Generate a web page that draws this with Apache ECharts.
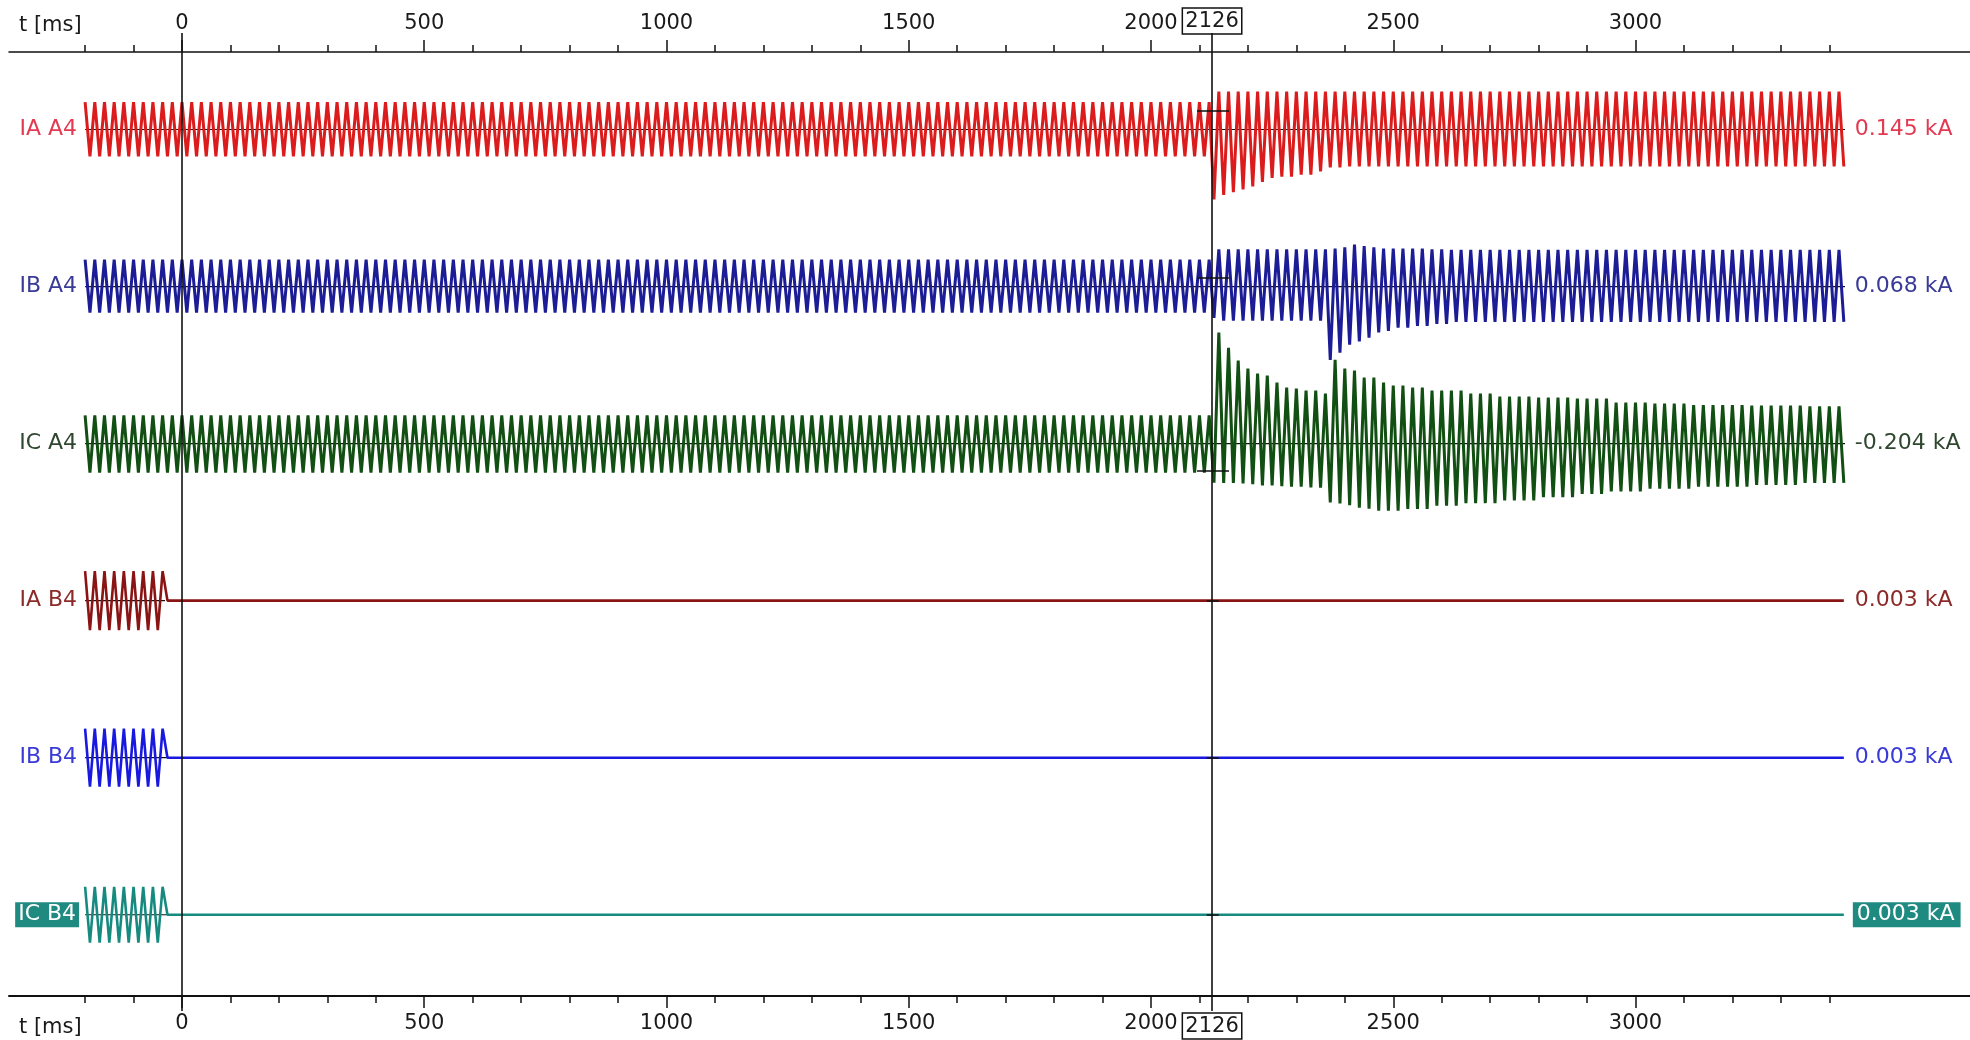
<!DOCTYPE html>
<html>
<head>
<meta charset="utf-8">
<title>IA / IB / IC A4 B4</title>
<script src="https://cdn.jsdelivr.net/npm/echarts@6/dist/echarts.min.js"></script>
<style>
  html, body { margin: 0; padding: 0; background: #fff; }
  #chart { width: 1970px; height: 1040px; }
</style>
</head>
<body>
<div id="chart"></div>
<script>
// channels, and the value read at the cursor (kA)
var channels = ['IA A4', 'IB A4', 'IC A4', 'IA B4', 'IB B4', 'IC B4'];
var cursorValues = [0.145, 0.068, -0.204, 0.003, 0.003, 0.003];
var cursorTime = 2126;
var markTimes = [0, 2126];

// time axis ticks / labels (ms)
var majorTicks = [0, 500, 1000, 1500, 2000, 2500, 3000];
var minorTicks = [-200, -100, 100, 200, 300, 400, 600, 700, 800, 900, 1100, 1200, 1300, 1400,
  1600, 1700, 1800, 1900, 2100, 2200, 2300, 2400, 2600, 2700, 2800, 2900, 3100, 3200, 3300, 3400];
var timeLabels = [0, 500, 1000, 1500, 2000, 2126, 2500, 3000];

// peak envelope: [t ms, positive peak kA, negative peak kA]
// each row holds until the next one
var iaA4 = [[-200, 0.21, -0.205], [2126, 0.29, -0.535], [2150, 0.29, -0.50], [2170, 0.29, -0.48],
  [2190, 0.29, -0.458], [2210, 0.29, -0.435], [2230, 0.29, -0.40], [2250, 0.29, -0.37],
  [2270, 0.29, -0.36], [2300, 0.29, -0.345], [2335, 0.29, -0.32], [2370, 0.29, -0.29],
  [2400, 0.29, -0.283]];
var ibA4 = [[-200, 0.205, -0.2], [2126, 0.27, -0.24], [2140, 0.285, -0.26], [2370, 0.29, -0.56],
  [2390, 0.30, -0.505], [2410, 0.32, -0.445], [2430, 0.31, -0.42], [2450, 0.30, -0.39],
  [2470, 0.29, -0.35], [2490, 0.29, -0.34], [2510, 0.29, -0.315], [2540, 0.29, -0.30],
  [2580, 0.285, -0.285], [2620, 0.28, -0.27]];
var icA4 = [[-200, 0.215, -0.222], [2126, 0.848, -0.298], [2145, 0.733, -0.30], [2165, 0.688, -0.30],
  [2180, 0.634, -0.305], [2195, 0.573, -0.31], [2215, 0.535, -0.315], [2230, 0.52, -0.32],
  [2245, 0.466, -0.32], [2265, 0.428, -0.325], [2285, 0.42, -0.33], [2320, 0.405, -0.335],
  [2345, 0.382, -0.336], [2370, 0.64, -0.45], [2385, 0.596, -0.458], [2400, 0.573, -0.47],
  [2420, 0.558, -0.49], [2440, 0.504, -0.497], [2465, 0.466, -0.512], [2500, 0.443, -0.512],
  [2530, 0.428, -0.50], [2580, 0.405, -0.474], [2650, 0.382, -0.455], [2720, 0.36, -0.435],
  [2800, 0.351, -0.41], [2880, 0.344, -0.385], [2950, 0.313, -0.365], [3030, 0.306, -0.345],
  [3120, 0.295, -0.33], [3240, 0.29, -0.315], [3350, 0.285, -0.30]];
var iaB4 = [[-200, 0.225, -0.225], [-35, 0, 0]];
var ibB4 = [[-200, 0.222, -0.222], [-30, 0, 0]];
var icB4 = [[-200, 0.214, -0.214], [-30, 0, 0]];
var envelopes = [iaA4, ibA4, icA4, iaB4, ibB4, icB4];
var recordStart = -200, recordEnd = 3430;
var baseSpans = [[-200, 3440], [-200, 3440], [-200, 3440], [-200, -35], [-200, -30], [-200, -30]];

var lineColors = ['#dc1c1c', '#1c1c96', '#124f12', '#8a1414', '#1818e0', '#178a80'];
var labelColors = ['#e23a52', '#3a3a98', '#2f472f', '#8c2a2a', '#3a3ad6', '#ffffff'];

// 50 Hz: one peak every half cycle, sign alternating
var HALF_CYCLE = 10;
function wave(knots) {
  var pts = [], j = 0, s = 1;
  for (var t = recordStart; t <= recordEnd; t += HALF_CYCLE) {
    while (j + 1 < knots.length && knots[j + 1][0] <= t) j++;
    pts.push([t, s > 0 ? knots[j][1] : knots[j][2]]);
    s = -s;
  }
  return pts;
}

var X0 = 182, K = 0.4845;            // pixel of t = 0, pixels per ms
var AX_MIN = (9 - X0) / K, AX_MAX = (1970 - X0) / K;
var FONT = 'DejaVu Sans';

var grids = [
  { left: 9, right: 0, top: 52, height: 944 },   // major ticks
  { left: 9, right: 0, top: 52, height: 944 },   // minor ticks
  { left: 9, right: 0, top: 33, height: 978 }    // 0 and cursor lines
];
var xAxes = [], yAxes = [], series = [];

function timeAxis(grid, pos, major) {
  return {
    type: 'value', gridIndex: grid, position: pos, min: AX_MIN, max: AX_MAX,
    axisLine: { show: major, onZero: false, lineStyle: { color: '#111', width: pos === 'bottom' ? 2 : 1.5 } },
    axisTick: { show: true, customValues: major ? majorTicks : minorTicks, length: major ? 12 : 7,
      lineStyle: { color: '#111', width: 1.5 } },
    axisLabel: { show: major, customValues: timeLabels, margin: pos === 'top' ? 18 : 17,
      fontFamily: FONT, fontSize: 21, color: '#1a1a1a',
      formatter: function (v) { return v === cursorTime ? '{box|' + v + '}' : String(v); },
      rich: { box: { fontFamily: FONT, fontSize: 21, color: '#1a1a1a', borderColor: '#111',
        borderWidth: 1.5, padding: [3, 3, 2, 3] } } },
    splitLine: { show: false }
  };
}
xAxes.push(timeAxis(0, 'top', true), timeAxis(0, 'bottom', true),
  timeAxis(1, 'top', false), timeAxis(1, 'bottom', false));
yAxes.push({ type: 'value', gridIndex: 0, min: 0, max: 1, show: false },
  { type: 'value', gridIndex: 1, min: 0, max: 1, show: false });

xAxes.push({ type: 'value', gridIndex: 2, min: AX_MIN, max: AX_MAX, show: false });
yAxes.push({ type: 'value', gridIndex: 2, min: 0, max: 1, show: false });
series.push({
  type: 'line', xAxisIndex: 4, yAxisIndex: 2, data: [], z: 10,
  markLine: {
    silent: true, symbol: ['none', 'none'], label: { show: false },
    lineStyle: { color: '#111', width: 1.6, type: 'solid' },
    data: markTimes.map(function (t) { return { xAxis: t }; })
  }
});

channels.forEach(function (name, i) {
  var base = 129.5 + 157.05 * i;
  var left = X0 + recordStart * K;
  grids.push({ left: left, right: 1970 - (X0 + recordEnd * K), top: base - 78.5, height: 157 });
  var g = 3 + i;
  var boxed = i === 5;
  xAxes.push({ type: 'value', gridIndex: g, min: recordStart, max: recordEnd, show: false });
  function labelAxis(pos, text, margin, pad) {
    return {
      type: 'value', gridIndex: g, position: pos, min: -0.6, max: 0.6,
      axisLine: { show: false, onZero: false }, axisTick: { show: false }, splitLine: { show: false },
      axisLabel: {
        customValues: [0],
        margin: margin, fontFamily: FONT, fontSize: 22, color: labelColors[i],
        backgroundColor: boxed ? '#1f8a80' : 'transparent', padding: boxed ? pad : 0,
        formatter: function () { return text; }
      }
    };
  }
  yAxes.push(labelAxis('left', name, boxed ? 6 : 8, [2, 3, 1, 3]),
    labelAxis('right', cursorValues[i].toFixed(3) + ' kA', boxed ? 9 : 11, [2, 6, 1, 4]));
  var xi = 5 + i, yi = 3 + 2 * i;
  series.push({
    type: 'line', name: name + ' zero', xAxisIndex: xi, yAxisIndex: yi, z: 1,
    data: baseSpans[i].map(function (t) { return [t, 0]; }),
    showSymbol: false, lineStyle: { color: '#111', width: 1.2 }, silent: true
  });
  series.push({
    type: 'line', name: name, xAxisIndex: xi, yAxisIndex: yi, z: 3,
    data: wave(envelopes[i]), showSymbol: false, clip: false, sampling: null,
    lineStyle: { color: lineColors[i], width: i < 3 ? 3 : 2.6, join: 'bevel' },
    markLine: {
      silent: true, symbol: ['none', 'none'], label: { show: false },
      lineStyle: { color: '#111', width: 1.5, type: 'solid' },
      data: [[{ coord: [i < 3 ? 2095 : 2115, cursorValues[i]] }, { coord: [i < 3 ? 2161 : 2140, cursorValues[i]] }]]
    }
  });
});

var chart = echarts.init(document.getElementById('chart'), null, { renderer: 'canvas' });
chart.setOption({
  animation: false,
  backgroundColor: '#ffffff',
  textStyle: { fontFamily: FONT },
  title: [
    { text: 't [ms]', left: 14, top: 10, textStyle: { fontFamily: FONT, fontSize: 21, fontWeight: 'normal', color: '#1a1a1a' } },
    { text: 't [ms]', left: 14, top: 1012, textStyle: { fontFamily: FONT, fontSize: 21, fontWeight: 'normal', color: '#1a1a1a' } }
  ],
  grid: grids,
  xAxis: xAxes,
  yAxis: yAxes,
  series: series
});
</script>
</body>
</html>
